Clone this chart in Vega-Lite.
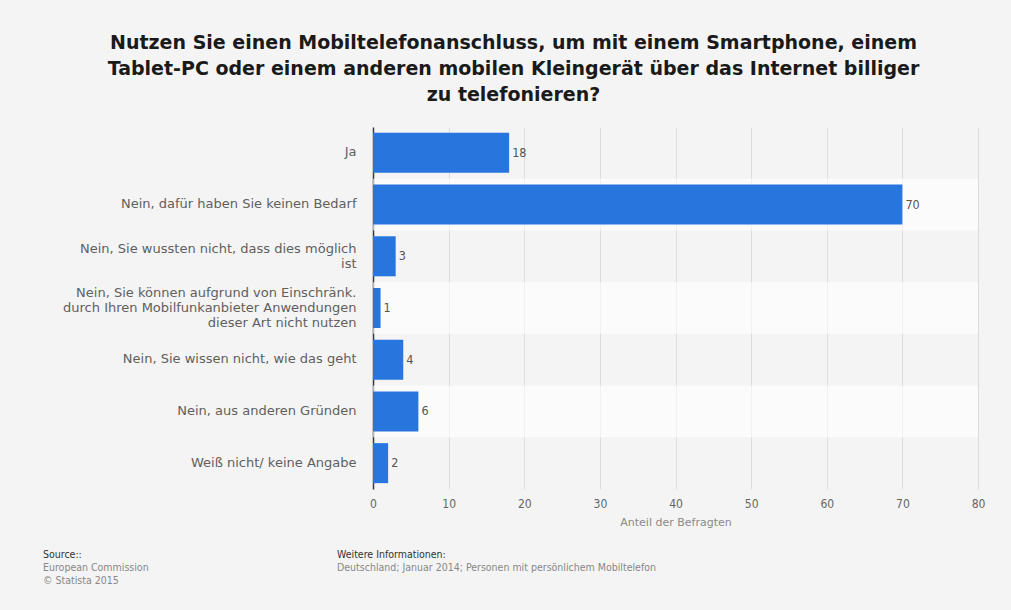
{
  "$schema": "https://vega.github.io/schema/vega-lite/v6.json",
  "width": 605,
  "height": 362,
  "autosize": {"type": "none"},
  "padding": {"left": 373, "top": 127, "right": 33, "bottom": 121},
  "background": "#f4f4f4",
  "config": {"view": {"stroke": null}},
  "title": {
    "text": [
      "Nutzen Sie einen Mobiltelefonanschluss, um mit einem Smartphone, einem",
      "Tablet-PC oder einem anderen mobilen Kleingerät über das Internet billiger",
      "zu telefonieren?"
    ],
    "font": "DejaVu Sans",
    "fontWeight": "bold",
    "fontSize": 19,
    "color": "#1a1a1a",
    "anchor": "middle",
    "dx": -162,
    "offset": 22,
    "lineHeight": 26
  },
  "data": {
    "values": [
      {"antwort": "Ja", "anteil": 18},
      {"antwort": "Nein, dafür haben Sie keinen Bedarf", "anteil": 70},
      {"antwort": "Nein, Sie wussten nicht, dass dies möglich\nist", "anteil": 3},
      {"antwort": "Nein, Sie können aufgrund von Einschränk.\ndurch Ihren Mobilfunkanbieter Anwendungen\ndieser Art nicht nutzen", "anteil": 1},
      {"antwort": "Nein, Sie wissen nicht, wie das geht", "anteil": 4},
      {"antwort": "Nein, aus anderen Gründen", "anteil": 6},
      {"antwort": "Weiß nicht/ keine Angabe", "anteil": 2}
    ]
  },
  "layer": [
    {
      "transform": [{"window": [{"op": "row_number", "as": "nr"}]}],
      "mark": {"type": "rect", "fill": "#ffffff"},
      "encoding": {
        "y": {"field": "antwort", "type": "nominal", "sort": null, "scale": {"type": "band", "paddingInner": 0, "paddingOuter": 0}, "axis": null},
        "x": {"datum": 0, "type": "quantitative", "scale": {"domain": [0, 80]}, "axis": null},
        "x2": {"datum": 80},
        "fillOpacity": {"condition": {"test": "datum.nr % 2 === 0", "value": 0.6}, "value": 0}
      }
    },
    {
      "layer": [
        {
          "mark": {"type": "bar", "color": "#2876dd"},
          "encoding": {
            "y": {
              "field": "antwort", "type": "nominal", "sort": null,
              "scale": {"type": "band", "paddingInner": 0.226, "paddingOuter": 0.113},
              "axis": {
                "orient": "left", "title": null, "domain": true, "domainColor": "#3a3a3a", "domainWidth": 1.5,
                "ticks": false, "grid": false, "labelPadding": 17, "labelFont": "DejaVu Sans", "labelFontSize": 13,
                "labelColor": "#5f5f5f", "labelLimit": 400, "labelLineHeight": 15,
                "labelOffset": -7.5,
                "labelBaseline": {
                  "condition": [
                    {"test": "length(split(datum.label, '\\n')) === 1", "value": "line-top"},
                    {"test": "length(split(datum.label, '\\n')) === 3", "value": "line-bottom"}
                  ],
                  "value": "middle"
                },
                "labelExpr": "split(datum.label, '\\n')"
              }
            },
            "x": {
              "field": "anteil", "type": "quantitative",
              "scale": {"domain": [0, 80]},
              "axis": {
                "orient": "bottom", "title": "Anteil der Befragten", "titleFont": "DejaVu Sans", "titleFontSize": 11,
                "titleFontWeight": "normal", "titleColor": "#8a8a8a", "titlePadding": 7,
                "domain": false, "ticks": false, "labelPadding": 9, "labelFlush": false,
                "labelFont": "DejaVu Sans Condensed", "labelFontSize": 12, "labelColor": "#666666",
                "values": [0, 10, 20, 30, 40, 50, 60, 70, 80],
                "grid": true, "gridColor": "#dcdcdc", "gridWidth": 1
              }
            }
          }
        },
        {
          "mark": {"type": "text", "align": "left", "baseline": "middle", "dx": 3, "font": "DejaVu Sans Condensed", "fontSize": 12.5, "color": "#555555"},
          "encoding": {
            "y": {"field": "antwort", "type": "nominal", "sort": null, "scale": {"type": "band", "paddingInner": 0.226, "paddingOuter": 0.113}},
            "x": {"field": "anteil", "type": "quantitative", "scale": {"domain": [0, 80]}},
            "text": {"field": "anteil", "type": "quantitative"}
          }
        }
      ]
    },
    {
      "data": {
        "values": [
          {"block": "quelle", "zeile": 1, "text": "Source::"},
          {"block": "quelle", "zeile": 2, "text": "European Commission"},
          {"block": "quelle", "zeile": 3, "text": "© Statista 2015"},
          {"block": "info", "zeile": 1, "text": "Weitere Informationen:"},
          {"block": "info", "zeile": 2, "text": "Deutschland; Januar 2014; Personen mit persönlichem Mobiltelefon"}
        ]
      },
      "mark": {"type": "text", "align": "left", "baseline": "middle", "font": "DejaVu Sans Condensed", "fontSize": 10.5},
      "encoding": {
        "x": {"field": "block", "type": "nominal", "scale": {"type": "point", "domain": ["quelle", "info"], "range": [-330, -36], "padding": 0}, "axis": null},
        "y": {"field": "zeile", "type": "ordinal", "scale": {"type": "point", "domain": [1, 2, 3], "range": [428, 454], "padding": 0}, "axis": null},
        "text": {"field": "text", "type": "nominal"},
        "color": {"condition": {"test": "datum.zeile === 1", "value": "#333333"}, "value": "#888888"}
      }
    }
  ],
  "resolve": {
    "scale": {"x": "independent", "y": "independent"},
    "axis": {"x": "independent", "y": "independent"}
  }
}
